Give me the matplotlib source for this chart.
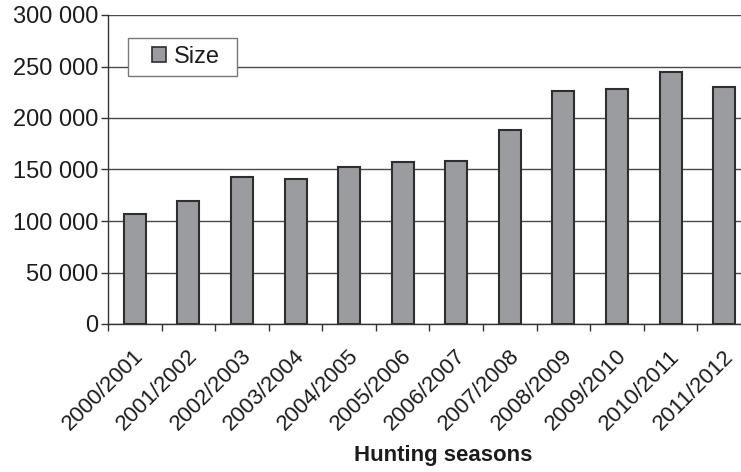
#!/usr/bin/env python3
# Hunting seasons bar chart ("Size" per season)

import numpy as np
import matplotlib
matplotlib.use("Agg")
import matplotlib.pyplot as plt
import matplotlib.transforms as mtransforms
from matplotlib.patches import Rectangle
from matplotlib.ticker import FixedLocator

# ---------------------------------------------------------------------------
# Data
# ---------------------------------------------------------------------------
seasons = ["2000/2001", "2001/2002", "2002/2003", "2003/2004", "2004/2005",
           "2005/2006", "2006/2007", "2007/2008", "2008/2009", "2009/2010",
           "2010/2011", "2011/2012"]
size_values = [107000, 119000, 143000, 141000, 152000, 157000,
               158000, 188000, 226000, 228000, 245000, 230000]
y_ticks = [0, 50000, 100000, 150000, 200000, 250000, 300000]
y_tick_labels = ["0", "50 000", "100 000", "150 000", "200 000",
                 "250 000", "300 000"]
series_name = "Size"
x_title = "Hunting seasons"

# ---------------------------------------------------------------------------
plt.rcParams['font.family'] = ['Liberation Sans', 'DejaVu Sans']
text_col = '#1c1c1c'

W, H, dpi = 741, 472, 100
fig = plt.figure(figsize=(W/dpi, H/dpi), dpi=dpi)
# axes runs past the right edge of the picture (cropped like the reference)
ax = fig.add_axes([108/W, (H-324)/H, 643/W, 309/H])

x = np.arange(len(seasons))
ax.bar(x, size_values, width=0.41, color='#9b9ca0', edgecolor='#2e2e2e',
       linewidth=1.5, label=series_name, zorder=3)

ax.set_xlim(-0.5, len(seasons)-0.5)
ax.set_ylim(0, 300000)

# gridlines
ax.set_yticks(y_ticks)
ax.set_yticklabels(y_tick_labels, fontsize=17, color=text_col)
ax.yaxis.grid(True, color='#4a4a4a', linewidth=1.0, zorder=0)
ax.set_axisbelow(True)

# x ticks: labels at centres, tick marks between categories
ax.set_xticks(x)
ax.set_xticklabels(seasons, rotation=45, ha='right', va='center',
                   rotation_mode='anchor', fontsize=16, color=text_col)
ax.xaxis.set_minor_locator(FixedLocator(np.arange(-0.5, len(seasons), 1.0)))
ax.tick_params(axis='x', which='major', length=0, pad=21)
ax.tick_params(axis='x', which='minor', length=5, width=1, color='#333333')
ax.tick_params(axis='y', length=5, width=1, color='#333333', pad=2)
shift = mtransforms.ScaledTranslation(6/dpi, 0, fig.dpi_scale_trans)
for lab in ax.get_xticklabels():
    lab.set_transform(lab.get_transform() + shift)

for s in ['top', 'right']:
    ax.spines[s].set_visible(False)
for s in ['left', 'bottom']:
    ax.spines[s].set_color('#333333')
    ax.spines[s].set_linewidth(1.0)

# legend: white box with grey border, small square key
fig_px = mtransforms.Affine2D().scale(1/W, -1/H).translate(0, 1) + fig.transFigure
ax.add_patch(Rectangle((128, 38), 109, 38, transform=fig_px, facecolor='white',
                       edgecolor='#777777', linewidth=1.0, zorder=4,
                       clip_on=False))
leg = ax.legend(loc='center left', bbox_to_anchor=(152, 57),
                bbox_transform=fig_px, fontsize=17, frameon=False,
                handlelength=0.6, handleheight=0.6, handletextpad=0.34,
                borderpad=0, borderaxespad=0)
leg.set_zorder(5)
for t in leg.get_texts():
    t.set_color(text_col)
for p in leg.get_patches():
    p.set_linewidth(1.2)

fig.text(443/W, 1-456/H, x_title, ha='center', va='center', fontsize=16,
         fontweight='bold', color=text_col)

fig.savefig("out.png", dpi=dpi)
